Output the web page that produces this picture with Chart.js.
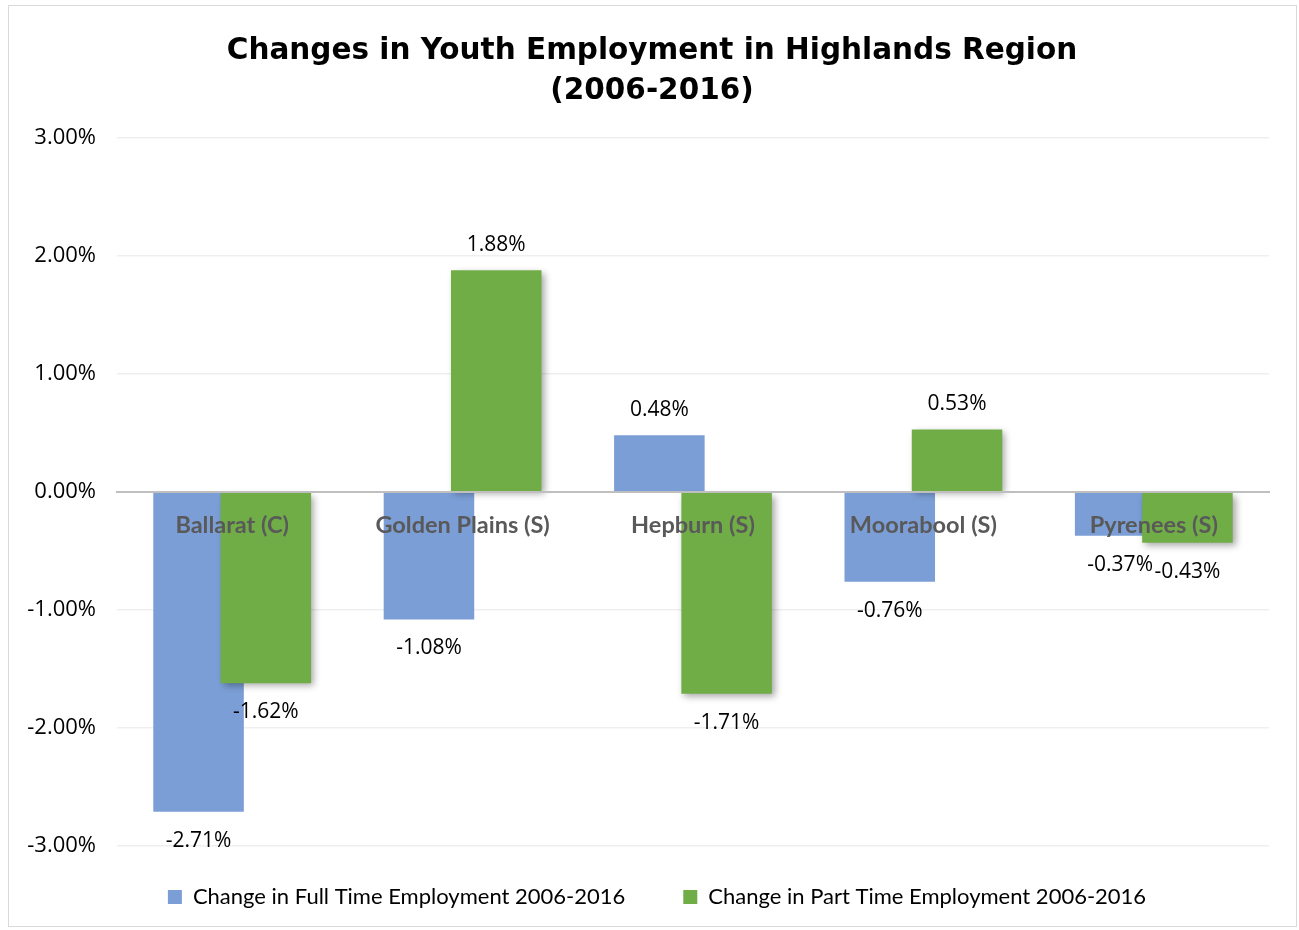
<!DOCTYPE html>
<html>
<head>
<meta charset="utf-8">
<script src="https://cdn.jsdelivr.net/npm/chart.js@4/dist/chart.umd.min.js"></script>
<style>
  body { margin: 0; background: #fff; }
  #box { position: absolute; left: 8px; top: 5px; width: 1289px; height: 922px; border: 1px solid #d9d9d9; box-sizing: border-box; }
  #box canvas { display: block; }
</style>
</head>
<body>
<div id="box"><canvas id="employmentChart" width="1287" height="920"></canvas></div>
<script>
const regions = ["Ballarat (C)", "Golden Plains (S)", "Hepburn (S)", "Moorabool (S)", "Pyrenees (S)"];
const fullTimeChange = [-2.71, -1.08, 0.48, -0.76, -0.37];
const partTimeChange = [-1.62, 1.88, -1.71, 0.53, -0.43];
const seriesNames = ["Change in Full Time Employment 2006-2016", "Change in Part Time Employment 2006-2016"];
const yTicks = [-3, -2, -1, 0, 1, 2, 3];

const textFont = "Lato";
const numberFont = "Open Sans";

// Excel style overlapping bars: both bars centred on the category, then nudged apart
const overlapBars = {
  id: "overlapBars",
  afterDatasetsUpdate(chart) {
    const xScale = chart.scales.x;
    const shift = (xScale.width / regions.length) * 0.146;
    chart.getSortedVisibleDatasetMetas().forEach((meta) => {
      const dir = meta.index === 0 ? -1 : 1;
      meta.data.forEach((bar) => { bar.x += dir * shift; });
    });
  },
};

// title and legend are centred on the whole frame, not on the plot
const boxNudge = {
  id: "boxNudge",
  afterLayout(chart) {
    const lg = chart.legend;
    lg.top -= 18; lg.bottom -= 18;
    lg.left += 18; lg.right += 18;
    const tb = chart.titleBlock;
    tb.left += 13; tb.right += 13;
  },
};

// drop shadow on the green series
const greenShadow = {
  id: "greenShadow",
  beforeDatasetDraw(chart, args) {
    if (args.index !== 1) return;
    const ctx = chart.ctx;
    ctx.save();
    ctx.shadowColor = "rgba(0,0,0,0.35)";
    ctx.shadowBlur = 7;
    ctx.shadowOffsetX = 3;
    ctx.shadowOffsetY = 3;
  },
  afterDatasetDraw(chart, args) {
    if (args.index === 1) chart.ctx.restore();
  },
};

const valueLabels = {
  id: "valueLabels",
  afterDatasetsDraw(chart) {
    const ctx = chart.ctx;
    ctx.save();
    ctx.font = `21px "${numberFont}"`;
    ctx.fillStyle = "#000";
    ctx.textAlign = "center";
    ctx.textBaseline = "middle";
    chart.data.datasets.forEach((ds, i) => {
      const meta = chart.getDatasetMeta(i);
      meta.data.forEach((bar, j) => {
        const v = ds.data[j];
        const y = v >= 0 ? bar.y - 25 : bar.y + 29;
        ctx.fillText(v.toFixed(2) + "%", bar.x, y);
      });
    });
    ctx.restore();
  },
};

new Chart(document.getElementById("employmentChart"), {
  type: "bar",
  data: {
    labels: regions,
    datasets: [
      {
        label: seriesNames[0],
        data: fullTimeChange,
        backgroundColor: "#7b9ed6",
        order: 1,
      },
      {
        label: seriesNames[1],
        data: partTimeChange,
        backgroundColor: "#70ad47",
        order: 0,
      },
    ],
  },
  options: {
    responsive: false,
    animation: false,
    layout: { padding: { left: 0, right: 27, top: 0, bottom: -10 } },
    datasets: {
      bar: { grouped: false, barPercentage: 0.393, categoryPercentage: 1 },
    },
    plugins: {
      title: {
        display: true,
        text: ["Changes in Youth Employment in Highlands Region", "(2006-2016)"],
        color: "#000",
        font: { family: "DejaVu Sans", size: 29.5, weight: "bold", lineHeight: 1.356 },
        padding: { top: 25, bottom: 27 },
      },
      legend: {
        position: "bottom",
        labels: {
          color: "#000",
          boxWidth: 14,
          boxHeight: 14,
          padding: 58,
          font: { family: textFont, size: 22 },
          sort: (a, b) => a.datasetIndex - b.datasetIndex,
        },
      },
      tooltip: { enabled: false },
    },
    scales: {
      x: {
        position: { y: 0 },
        grid: { display: false, drawTicks: false },
        border: { color: "#bfbfbf", width: 2, z: 1 },
        ticks: {
          z: 1,
          color: "#595959",
          padding: 19,
          font: { family: textFont, size: 23.5, weight: "bold" },
        },
        afterFit(scale) { scale.height = 0; },
      },
      y: {
        min: -3,
        max: 3,
        afterBuildTicks(scale) { scale.ticks = yTicks.map((v) => ({ value: v })); },
        afterFit(scale) { scale.width = 108; },
        grid: { color: "#efefef", lineWidth: 1.5, drawTicks: false },
        border: { display: false },
        ticks: {
          color: "#000",
          padding: 21,
          font: { family: numberFont, size: 22 },
          callback: (v) => v.toFixed(2) + "%",
        },
      },
    },
  },
  plugins: [overlapBars, boxNudge, greenShadow, valueLabels],
});
</script>
</body>
</html>
